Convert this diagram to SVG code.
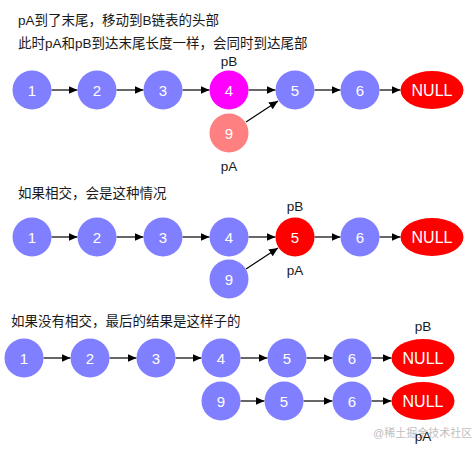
<svg xmlns="http://www.w3.org/2000/svg" width="475" height="451" viewBox="0 0 475 451">
<style>
.t{font-family:"Liberation Sans","Noto Sans CJK SC",sans-serif;font-size:13.5px;fill:#1a1a1a}
.n{font-family:"Liberation Sans",Arial,sans-serif;font-size:15px;fill:#fff;text-anchor:middle;dominant-baseline:central}
.u{font-size:16px}
.b{fill:#7f7fff}
.r{fill:#ff0000}
.m{fill:#ff00ff}
.s{fill:#ff8080}
.e{stroke:#000;stroke-width:1.2;fill:none;marker-end:url(#ah)}
.l{font-family:"Liberation Sans",Arial,sans-serif;font-size:13.5px;fill:#1a1a1a;text-anchor:middle;dominant-baseline:central}
.w{font-family:"Liberation Sans","Noto Sans CJK SC",sans-serif;font-size:11px;fill:#c0c0c0}
</style>
<defs>
<marker id="ah" markerUnits="userSpaceOnUse" markerWidth="9" markerHeight="8" refX="9" refY="4" orient="auto">
<path d="M0,0 L9,4 L0,8 z" fill="#000"/>
</marker>
</defs>
<rect width="475" height="451" fill="#fff"/>
<text class="t" x="18" y="25">pA到了末尾，移动到B链表的头部</text>
<text class="t" x="18" y="48">此时pA和pB到达末尾长度一样，会同时到达尾部</text>
<text class="t" x="18" y="198">如果相交，会是这种情况</text>
<text class="t" x="11" y="326">如果没有相交，最后的结果是这样子的</text>
<g id="labels">
<text class="l" x="229" y="61">pB</text>
<text class="l" x="229" y="166">pA</text>
<text class="l" x="295" y="206">pB</text>
<text class="l" x="295" y="270">pA</text>
<text class="l" x="423" y="326">pB</text>
</g>
<g id="connectors">
<line class="e" x1="51.5" y1="90" x2="77.5" y2="90"/>
<line class="e" x1="116.5" y1="90" x2="143.5" y2="90"/>
<line class="e" x1="182.5" y1="90" x2="209.5" y2="90"/>
<line class="e" x1="248.5" y1="90" x2="275.5" y2="90"/>
<line class="e" x1="314.5" y1="90" x2="340.5" y2="90"/>
<line class="e" x1="379.5" y1="90" x2="400.5" y2="90"/>
<line class="e" x1="246" y1="122" x2="278" y2="101"/>
<line class="e" x1="51.5" y1="237" x2="77.5" y2="237"/>
<line class="e" x1="116.5" y1="237" x2="143.5" y2="237"/>
<line class="e" x1="182.5" y1="237" x2="209.5" y2="237"/>
<line class="e" x1="248.5" y1="237" x2="275.5" y2="237"/>
<line class="e" x1="314.5" y1="237" x2="340.5" y2="237"/>
<line class="e" x1="379.5" y1="237" x2="400.5" y2="237"/>
<line class="e" x1="246" y1="269" x2="278" y2="248"/>
<line class="e" x1="43.5" y1="358" x2="70.5" y2="358"/>
<line class="e" x1="109.5" y1="358" x2="136.5" y2="358"/>
<line class="e" x1="175.5" y1="358" x2="201.5" y2="358"/>
<line class="e" x1="240.5" y1="358" x2="267.5" y2="358"/>
<line class="e" x1="306.5" y1="358" x2="332.5" y2="358"/>
<line class="e" x1="371.5" y1="358" x2="391.5" y2="358"/>
<line class="e" x1="240.5" y1="401" x2="264.5" y2="401"/>
<line class="e" x1="303.5" y1="401" x2="332.5" y2="401"/>
<line class="e" x1="371.5" y1="401" x2="391.5" y2="401"/>
</g>
<g id="a1"><circle class="b" cx="32" cy="90" r="19.5"/><text class="n" x="32" y="90">1</text></g>
<g id="a2"><circle class="b" cx="97" cy="90" r="19.5"/><text class="n" x="97" y="90">2</text></g>
<g id="a3"><circle class="b" cx="163" cy="90" r="19.5"/><text class="n" x="163" y="90">3</text></g>
<g id="a4"><circle class="m" cx="229" cy="90" r="19.5"/><text class="n" x="229" y="90">4</text></g>
<g id="a5"><circle class="b" cx="295" cy="90" r="19.5"/><text class="n" x="295" y="90">5</text></g>
<g id="a6"><circle class="b" cx="360" cy="90" r="19.5"/><text class="n" x="360" y="90">6</text></g>
<g id="anull"><ellipse class="r" cx="432" cy="90" rx="31.5" ry="19"/><text class="n u" x="432" y="90">NULL</text></g>
<g id="a9"><circle class="s" cx="229" cy="133" r="19.5"/><text class="n" x="229" y="133">9</text></g>
<g id="b1"><circle class="b" cx="32" cy="237" r="19.5"/><text class="n" x="32" y="237">1</text></g>
<g id="b2"><circle class="b" cx="97" cy="237" r="19.5"/><text class="n" x="97" y="237">2</text></g>
<g id="b3"><circle class="b" cx="163" cy="237" r="19.5"/><text class="n" x="163" y="237">3</text></g>
<g id="b4"><circle class="b" cx="229" cy="237" r="19.5"/><text class="n" x="229" y="237">4</text></g>
<g id="b5"><circle class="r" cx="295" cy="237" r="19.5"/><text class="n" x="295" y="237">5</text></g>
<g id="b6"><circle class="b" cx="360" cy="237" r="19.5"/><text class="n" x="360" y="237">6</text></g>
<g id="bnull"><ellipse class="r" cx="432" cy="237" rx="31.5" ry="19"/><text class="n u" x="432" y="237">NULL</text></g>
<g id="b9"><circle class="b" cx="229" cy="279" r="19.5"/><text class="n" x="229" y="279">9</text></g>
<g id="c1"><circle class="b" cx="24" cy="358" r="19.5"/><text class="n" x="24" y="358">1</text></g>
<g id="c2"><circle class="b" cx="90" cy="358" r="19.5"/><text class="n" x="90" y="358">2</text></g>
<g id="c3"><circle class="b" cx="156" cy="358" r="19.5"/><text class="n" x="156" y="358">3</text></g>
<g id="c4"><circle class="b" cx="221" cy="358" r="19.5"/><text class="n" x="221" y="358">4</text></g>
<g id="c5"><circle class="b" cx="287" cy="358" r="19.5"/><text class="n" x="287" y="358">5</text></g>
<g id="c6"><circle class="b" cx="352" cy="358" r="19.5"/><text class="n" x="352" y="358">6</text></g>
<g id="cnull"><ellipse class="r" cx="423" cy="358" rx="31.5" ry="19"/><text class="n u" x="423" y="358">NULL</text></g>
<g id="d9"><circle class="b" cx="221" cy="401" r="19.5"/><text class="n" x="221" y="401">9</text></g>
<g id="d5"><circle class="b" cx="284" cy="401" r="19.5"/><text class="n" x="284" y="401">5</text></g>
<g id="d6"><circle class="b" cx="352" cy="401" r="19.5"/><text class="n" x="352" y="401">6</text></g>
<g id="dnull"><ellipse class="r" cx="423" cy="401" rx="31.5" ry="19"/><text class="n u" x="423" y="401">NULL</text></g>
<text class="w" x="373" y="437">@稀土掘金技术社区</text>
<text class="l" x="423" y="436">pA</text>
</svg>
